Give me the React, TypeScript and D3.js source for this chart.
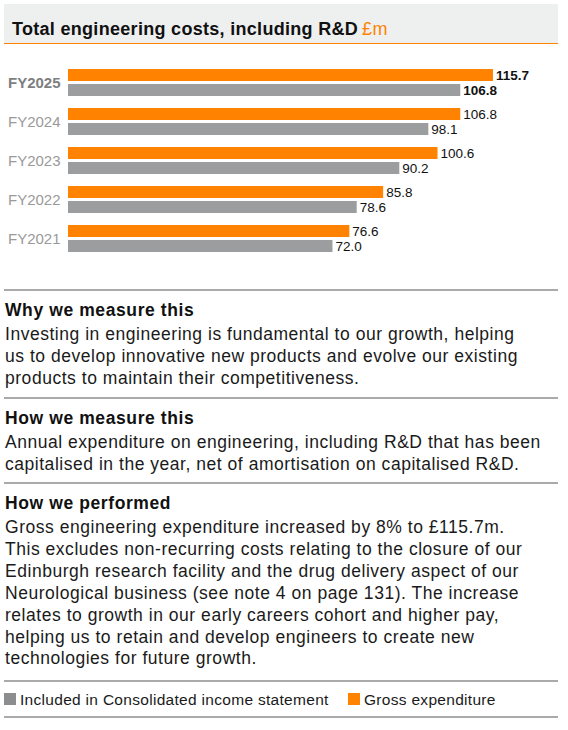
import React from "react";
import * as d3 from "d3";

const years = ["FY2025", "FY2024", "FY2023", "FY2022", "FY2021"];
const grossExpenditure = [115.7, 106.8, 100.6, 85.8, 76.6];
const incomeStatement = [106.8, 98.1, 90.2, 78.6, 72.0];
const seriesKeys = ["gross", "income"];
const seriesLabels = ["Included in Consolidated income statement", "Gross expenditure"];

const title = "Total engineering costs, including R&D";
const unit = "£m";

const sections = [
  {
    heading: "Why we measure this",
    lines: [
      "Investing in engineering is fundamental to our growth, helping",
      "us to develop innovative new products and evolve our existing",
      "products to maintain their competitiveness.",
    ],
  },
  {
    heading: "How we measure this",
    lines: [
      "Annual expenditure on engineering, including R&D that has been",
      "capitalised in the year, net of amortisation on capitalised R&D.",
    ],
  },
  {
    heading: "How we performed",
    lines: [
      "Gross engineering expenditure increased by 8% to £115.7m.",
      "This excludes non-recurring costs relating to the closure of our",
      "Edinburgh research facility and the drug delivery aspect of our",
      "Neurological business (see note 4 on page 131). The increase",
      "relates to growth in our early careers cohort and higher pay,",
      "helping us to retain and develop engineers to create new",
      "technologies for future growth.",
    ],
  },
];

const ORANGE = "#ff8200";
const GREY = "#9b9d9f";
const LEGEND_GREY = "#8b8d8f";
const RULE = "#8e8e8e";
const FONT = "'Liberation Sans', Arial, Helvetica, sans-serif";

export default function App() {
  const W = 568;
  const H = 730;
  const x = d3.scaleLinear().domain([0, 120]).range([68, 68 + 120 * 3.673]);
  const y = d3
    .scaleBand<string>()
    .domain(years)
    .range([69, 252])
    .paddingInner(12 / 39)
    .paddingOuter(0);
  const inner = d3
    .scaleBand<string>()
    .domain(seriesKeys)
    .range([0, y.bandwidth()])
    .paddingInner(3 / 15);

  const sectionTops = [290, 398, 483];
  const bodyStep = 21.9;

  return (
    <svg
      width={W}
      height={H}
      style={{ position: "absolute", left: 0, top: 0, fontFamily: FONT }}
    >
      <rect x={0} y={0} width={W} height={H} fill="#fff" />
      {/* header */}
      <rect x={4} y={4} width={554} height={39} fill="#eeefef" />
      <line x1={4} x2={558} y1={43.5} y2={43.5} stroke={ORANGE} strokeWidth={1} />
      <text x={12} y={35} fontSize={18} letterSpacing={0.3} fontWeight="bold" fill="#111">
        {title}
        <tspan fill={ORANGE} fontWeight="normal" dx={4}>
          {unit}
        </tspan>
      </text>

      {/* bars */}
      {years.map((yr, i) => {
        const y0 = y(yr)!;
        const bold = i === 0;
        const vals = [grossExpenditure[i], incomeStatement[i]];
        return (
          <g key={yr}>
            <text
              x={8}
              y={y0 + y.bandwidth() / 2 + 5.5}
              fontSize={15}
              fontWeight={bold ? "bold" : "normal"}
              fill={bold ? "#7d7f81" : "#9a9a9a"}
            >
              {yr}
            </text>
            {seriesKeys.map((k, j) => {
              const by = y0 + inner(k)!;
              const v = vals[j];
              return (
                <g key={k}>
                  <rect
                    x={x(0)}
                    y={by}
                    width={x(v) - x(0)}
                    height={inner.bandwidth()}
                    fill={j === 0 ? ORANGE : GREY}
                  />
                  <text
                    x={x(v) + 3}
                    y={by + inner.bandwidth() / 2 + 5}
                    fontSize={13.5}
                    fontWeight={bold ? "bold" : "normal"}
                    fill="#111"
                  >
                    {v.toFixed(1)}
                  </text>
                </g>
              );
            })}
          </g>
        );
      })}

      {/* sections */}
      {sections.map((s, i) => {
        const top = sectionTops[i];
        return (
          <g key={s.heading}>
            <line x1={4} x2={558} y1={top} y2={top} stroke={RULE} strokeWidth={1.5} />
            <text
              x={5}
              y={top + 26}
              fontSize={17.5}
              letterSpacing={0.6}
              fontWeight="bold"
              fill="#111"
            >
              {s.heading}
            </text>
            {s.lines.map((l, j) => (
              <text
                key={j}
                x={5}
                y={top + 50 + j * bodyStep}
                fontSize={17.5}
                letterSpacing={0.53}
                fill="#1a1a1a"
              >
                {l}
              </text>
            ))}
          </g>
        );
      })}

      {/* legend */}
      <line x1={4} x2={558} y1={681} y2={681} stroke={RULE} strokeWidth={1.5} />
      <rect x={4} y={693} width={12} height={12} fill={LEGEND_GREY} />
      <text x={20} y={705} fontSize={15.5} letterSpacing={0.3} fill="#1a1a1a">
        {seriesLabels[0]}
      </text>
      <rect x={348} y={693} width={12} height={12} fill={ORANGE} />
      <text x={364} y={705} fontSize={15.5} letterSpacing={0.3} fill="#1a1a1a">
        {seriesLabels[1]}
      </text>
      <line x1={4} x2={558} y1={717} y2={717} stroke={RULE} strokeWidth={1.5} />
    </svg>
  );
}
